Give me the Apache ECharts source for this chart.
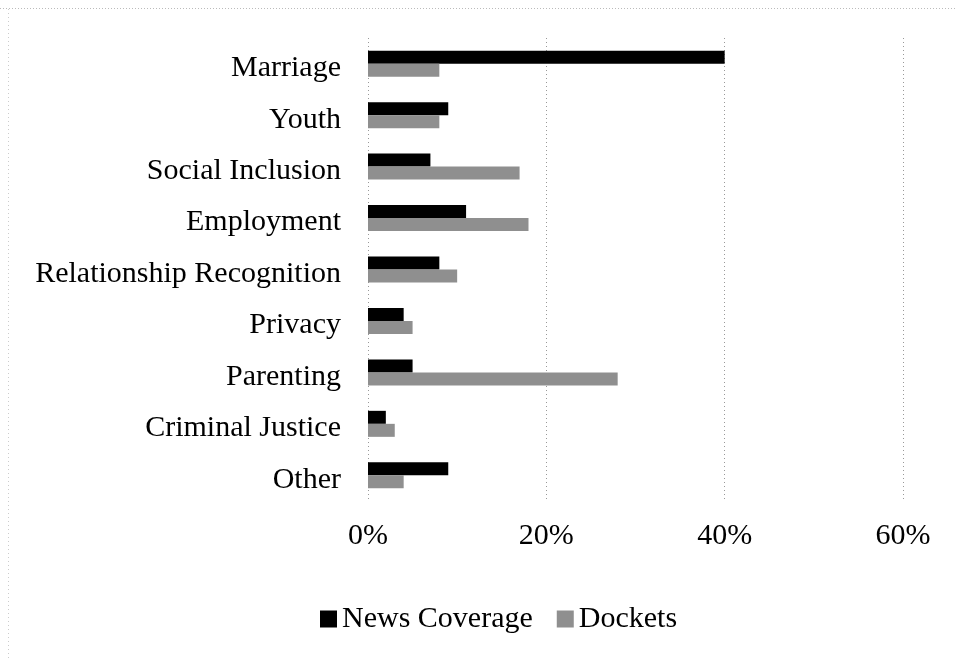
<!DOCTYPE html>
<html>
<head>
<meta charset="utf-8">
<script src="https://cdn.jsdelivr.net/npm/echarts@6/dist/echarts.min.js"></script>
<style>
html,body{margin:0;padding:0;background:#fff;}
#chart{width:956px;height:661px;}
</style>
</head>
<body>
<div id="chart"></div>
<script>
const categories = ["Marriage","Youth","Social Inclusion","Employment","Relationship Recognition","Privacy","Parenting","Criminal Justice","Other"];
const newsCoverage = [40, 9, 7, 11, 8, 4, 5, 2, 9];
const dockets = [8, 8, 17, 18, 10, 5, 28, 3, 4];
const xTicks = [0, 20, 40, 60];

const FONT = "'Liberation Serif', 'Times New Roman', serif";
const chart = echarts.init(document.getElementById('chart'));
chart.setOption({
  animation: false,
  backgroundColor: '#fff',
  textStyle: {fontFamily: FONT},
  grid: {left: 368, right: 53, top: 38, bottom: 160, containLabel: false},
  graphic: [
    {type: 'line', shape: {x1: 0, y1: 8.5, x2: 956, y2: 8.5}, style: {stroke: '#bbb', lineWidth: 1, lineDash: [1, 2]}, silent: true},
    {type: 'line', shape: {x1: 8.5, y1: 9, x2: 8.5, y2: 661}, style: {stroke: '#ccc', lineWidth: 1, lineDash: [1, 3]}, silent: true}
  ],
  legend: {
    bottom: 22,
    left: 315,
    itemWidth: 17,
    itemHeight: 17,
    itemGap: 24,
    icon: 'rect',
    textStyle: {fontFamily: FONT, fontSize: 30, color: '#000'},
    data: ['News Coverage', 'Dockets']
  },
  xAxis: {
    type: 'value',
    min: xTicks[0],
    max: xTicks[xTicks.length - 1],
    interval: 20,
    axisLine: {show: false},
    axisTick: {show: false},
    axisLabel: {fontFamily: FONT, fontSize: 30, color: '#000', margin: 20, formatter: v => v + '%'},
    splitLine: {show: true, lineStyle: {color: '#999', type: [1, 3], width: 1}}
  },
  yAxis: {
    type: 'category',
    inverse: true,
    data: categories,
    axisLine: {show: false},
    axisTick: {show: false},
    axisLabel: {
      color: '#000', margin: 27,
      formatter: v => '{l|' + v + '}',
      rich: {l: {fontFamily: FONT, fontSize: 30, color: '#000', padding: [9, 0, 0, 0]}}
    }
  },
  series: [
    {name: 'News Coverage', type: 'bar', data: newsCoverage, barWidth: 13, barGap: '0%',
     itemStyle: {color: '#000'}},
    {name: 'Dockets', type: 'bar', data: dockets, barWidth: 13, barGap: '0%',
     itemStyle: {color: '#8f8f8f'}}
  ]
});
</script>
</body>
</html>
